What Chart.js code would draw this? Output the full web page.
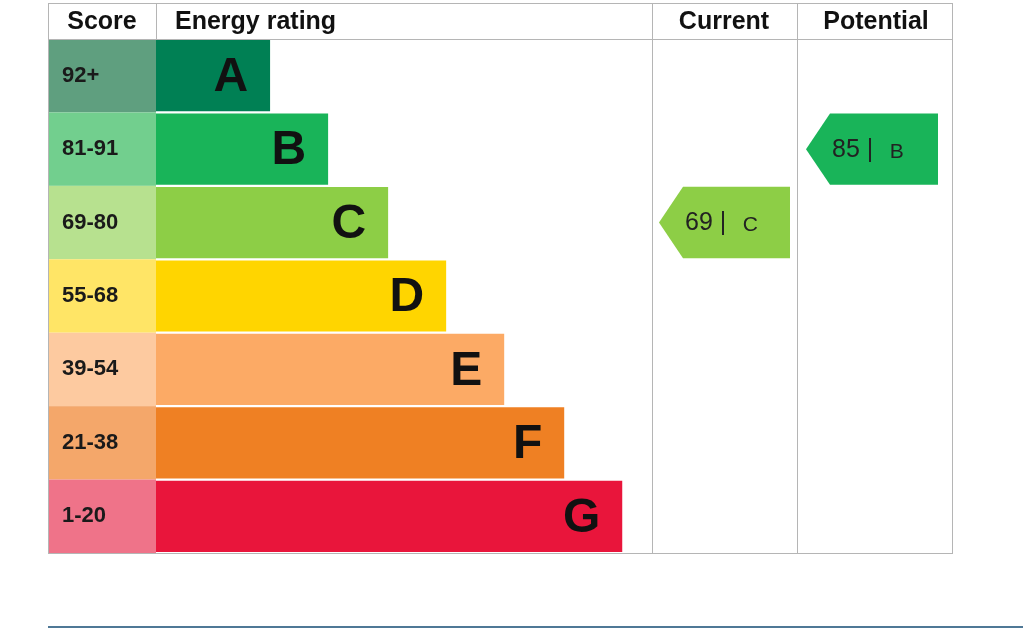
<!DOCTYPE html>
<html><head><meta charset="utf-8">
<script src="https://cdn.jsdelivr.net/npm/chart.js@4/dist/chart.umd.min.js"></script>
<style>html,body{margin:0;background:#fff}#wrap{width:1023px;height:628px}</style>
</head><body><div id="wrap"><canvas id="epc"></canvas></div>
<script>
const bands = ['A', 'B', 'C', 'D', 'E', 'F', 'G'];
const scoreLabels = ['92+', '81-91', '69-80', '55-68', '39-54', '21-38', '1-20'];
const barLengths = [23, 34.7, 46.8, 58.5, 70.2, 82.3, 94];
const bandColors = ['#008054', '#19b459', '#8dce46', '#ffd500', '#fcaa65', '#ef8023', '#e9153b'];
const scoreColors = ['#5f9f7f', '#72cf8e', '#b7e18f', '#ffe566', '#fdcaa0', '#f4a76a', '#ef7389'];
const currentScore = 69, currentBand = 'C';
const potentialScore = 85, potentialBand = 'B';

const FONT = '"Liberation Sans", Arial, sans-serif';

const tablePlugin = {
    id: 'epcTable',
    beforeDatasetsDraw(chart) {
        const ctx = chart.ctx;
        const y = chart.scales.y;
        ctx.save();
        bands.forEach((b, i) => {
            const top = y.getPixelForValue(i) - y.height / 14;
            ctx.fillStyle = scoreColors[i];
            ctx.fillRect(48, top, 108, y.height / 7);
            ctx.fillStyle = '#1a1a1a';
            ctx.font = 'bold 22px ' + FONT;
            ctx.textBaseline = 'middle';
            ctx.fillText(scoreLabels[i], 62, y.getPixelForValue(i));
        });
        ctx.restore();
    },
    afterDatasetsDraw(chart) {
        const ctx = chart.ctx;
        const x = chart.scales.x;
        const y = chart.scales.y;
        ctx.save();
        // letters
        ctx.fillStyle = '#111';
        ctx.font = 'bold 48px ' + FONT;
        ctx.textAlign = 'right';
        ctx.textBaseline = 'middle';
        bands.forEach((b, i) => {
            ctx.fillText(b, x.getPixelForValue(barLengths[i]) - 22, y.getPixelForValue(i) + 2);
        });
        // grid
        ctx.strokeStyle = '#b5b5b5';
        ctx.lineWidth = 1;
        ctx.strokeRect(48.5, 3.5, 904, 550);
        ctx.beginPath();
        ctx.moveTo(48, 39.5); ctx.lineTo(952, 39.5);
        ctx.moveTo(156.5, 3); ctx.lineTo(156.5, 39);
        ctx.moveTo(652.5, 3); ctx.lineTo(652.5, 553);
        ctx.moveTo(797.5, 3); ctx.lineTo(797.5, 553);
        ctx.stroke();
        // header
        ctx.fillStyle = '#111';
        ctx.font = 'bold 25px ' + FONT;
        ctx.textAlign = 'center';
        ctx.fillText('Score', 102, 22);
        ctx.fillText('Current', 724, 22);
        ctx.fillText('Potential', 876, 22);
        ctx.textAlign = 'left';
        ctx.fillText('Energy rating', 175, 22);
        // arrows
        const arrow = (score, band, left, right) => {
            const i = bands.indexOf(band);
            const cy = y.getPixelForValue(i);
            const h = y.height / 7 - 2;
            ctx.fillStyle = bandColors[i];
            ctx.beginPath();
            ctx.moveTo(left, cy);
            ctx.lineTo(left + 24, cy - h / 2);
            ctx.lineTo(right, cy - h / 2);
            ctx.lineTo(right, cy + h / 2);
            ctx.lineTo(left + 24, cy + h / 2);
            ctx.closePath();
            ctx.fill();
            ctx.fillStyle = '#222';
            ctx.textAlign = 'left';
            ctx.font = '25px ' + FONT;
            const t = score + ' |';
            ctx.fillText(t, left + 26, cy + 1);
            ctx.font = '21px ' + FONT;
            ctx.fillText(band, left + 26 + ctx.measureText('  ').width + 46, cy + 3);
        };
        arrow(currentScore, currentBand, 659, 790);
        arrow(potentialScore, potentialBand, 806, 938);
        // bottom rule
        ctx.strokeStyle = '#4f7896';
        ctx.lineWidth = 2;
        ctx.beginPath();
        ctx.moveTo(48, 627); ctx.lineTo(1023, 627);
        ctx.stroke();
        ctx.restore();
    }
};

new Chart(document.getElementById('epc'), {
    type: 'bar',
    data: {
        labels: bands,
        datasets: [{
            data: barLengths,
            backgroundColor: bandColors,
            barPercentage: 0.97,
            categoryPercentage: 1,
        }],
    },
    options: {
        indexAxis: 'y',
        responsive: true,
        maintainAspectRatio: false,
        animation: false,
        layout: { padding: { left: 156, top: 39, right: 371, bottom: 75 } },
        plugins: { legend: { display: false }, tooltip: { enabled: false } },
        scales: {
            x: { display: false, min: 0, max: 100 },
            y: { display: false },
        },
    },
    plugins: [tablePlugin],
});
</script>
</body></html>
